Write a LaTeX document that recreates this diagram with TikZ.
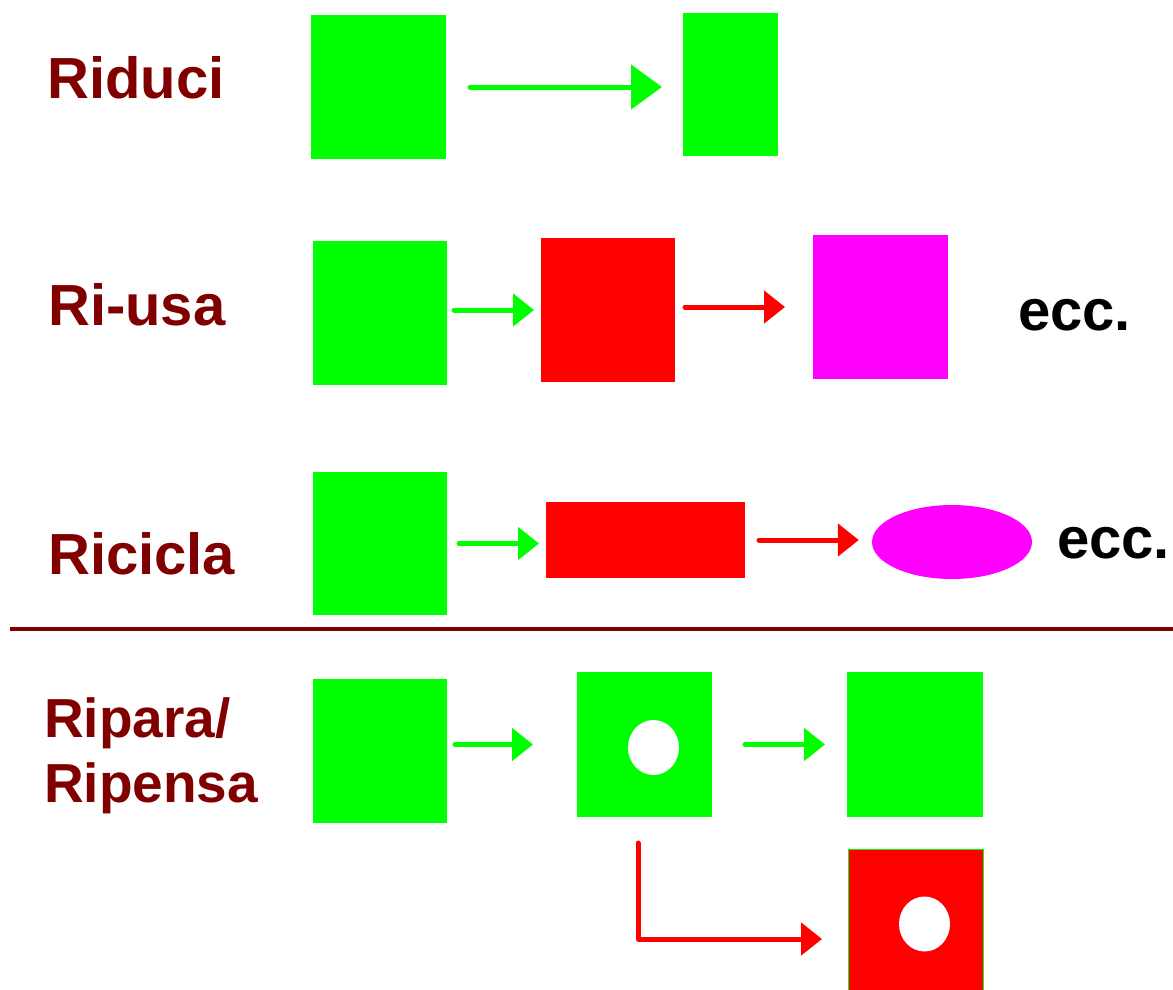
\documentclass[tikz,border=0pt]{standalone}
\usepackage{fontspec}
\setmainfont{Liberation Sans}
\usetikzlibrary{arrows.meta,shapes.geometric}
\definecolor{lime}{HTML}{00FF00}
\definecolor{pure red}{HTML}{FF0000}
\definecolor{fuchsia}{HTML}{FF00FF}
\definecolor{maroon}{HTML}{800000}
\tikzset{
  box/.style={draw=none, inner sep=0pt, outer sep=0pt, rectangle},
  gbox/.style={box, fill=lime},
  rbox/.style={box, fill=pure red},
  mbox/.style={box, fill=fuchsia},
  hole/.style={ellipse, fill=white, inner sep=0pt, minimum width=51pt, minimum height=55pt},
  label/.style={font=\fontsize{58}{65}\selectfont\bfseries, text=maroon, anchor=base west, inner sep=0pt},
  smalllabel/.style={label, font=\fontsize{55}{65}\selectfont\bfseries},
  etc/.style={font=\fontsize{58}{65}\selectfont\bfseries, text=black, anchor=base west, inner sep=0pt},
  flow/.style={line width=5pt, line cap=round, -{Triangle[length=21pt, width=32pt]}},
  bigflow/.style={line width=5pt, line cap=round, -{Triangle[length=31pt, width=44pt]}},
}
\begin{document}
\begin{tikzpicture}[x=1pt, y=-1pt]
\useasboundingbox (0,0) rectangle (1173,989);

% row labels
\node[label] (riduci)  at (47,98)  {Riduci};
\node[label] (riusa)   at (48,325) {Ri-usa};
\node[label] (ricicla) at (48,574) {Ricicla};
\node[smalllabel] (ripara)  at (44,737) {Ripara/};
\node[smalllabel] (ripensa) at (44,802) {Ripensa};
\node[etc] (ecc1) at (1018,330) {ecc.};
\node[etc] (ecc2) at (1057,558) {ecc.};

% Riduci: large box becomes smaller box
\node[gbox, minimum width=135pt, minimum height=144pt] (a1) at (378.5,87) {};
\node[gbox, minimum width=95pt,  minimum height=143pt] (a2) at (730.5,84.5) {};
\draw[bigflow, lime, shorten <=24pt, shorten >=21pt] (a1.east) -- (a1.east -| a2.west);

% Ri-usa
\node[gbox, minimum width=134pt, minimum height=144pt] (b1) at (380,313) {};
\node[rbox, minimum width=134pt, minimum height=144pt] (b2) at (608,310) {};
\node[mbox, minimum width=135pt, minimum height=144pt] (b3) at (880.5,307) {};
\draw[flow, lime, shorten <=7pt, shorten >=7pt] (b2.west -| b1.east) -- (b2.west);
\draw[flow, pure red, shorten <=10pt, shorten >=28pt] (b3.west -| b2.east) -- (b3.west);

% Ricicla
\node[gbox, minimum width=134pt, minimum height=143pt] (c1) at (380,543.5) {};
\node[rbox, minimum width=199pt, minimum height=76pt] (c2) at (645.5,540) {};
\node[ellipse, fill=fuchsia, inner sep=0pt, minimum width=160pt, minimum height=74pt] (c3) at (952,542) {};
\draw[flow, lime, shorten <=12pt, shorten >=7pt] (c1.east) -- (c1.east -| c2.west);
\draw[flow, pure red, shorten <=14pt, shorten >=13pt] (c2.east) -- (c2.east -| c3.west);

% divider
\coordinate (rulel) at (10,629);
\coordinate (ruler) at (1173,629);
\draw[maroon, line width=4pt] (rulel) -- (ruler);

% Ripara / Ripensa
\node[gbox, minimum width=134pt, minimum height=144pt] (d1) at (380,751) {};
\node[gbox, minimum width=135pt, minimum height=145pt] (d2) at (644.5,744.5) {};
\node[hole] (d2h) at (653.5,747.5) {};
\node[gbox, minimum width=136pt, minimum height=145pt] (d3) at (915,744.5) {};
\node[rbox, draw=lime, line width=0.8pt, minimum width=135pt, minimum height=144pt] (d4) at (915.5,921) {};
\node[hole] (d4h) at (924.5,924) {};
\draw[flow, lime, shorten <=8pt, shorten >=44pt] (d2.west -| d1.east) -- (d2.west);
\draw[flow, lime, shorten <=33pt, shorten >=22pt] (d2.east) -- (d3.west);
\coordinate (bend) at (638,939);
\draw[flow, pure red, line join=round, shorten <=26pt, shorten >=26pt]
  (d2.south -| bend) -- (bend) -- (bend -| d4.west);
\end{tikzpicture}
\end{document}
